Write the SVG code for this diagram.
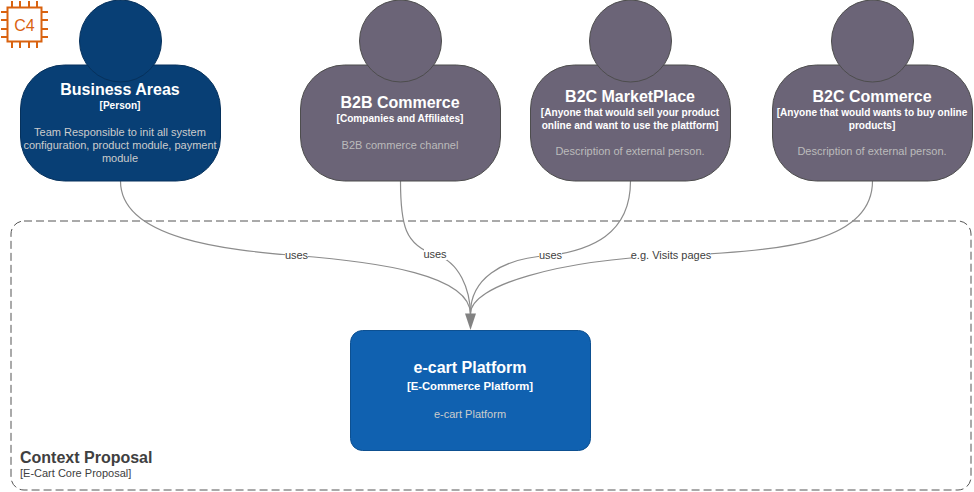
<svg xmlns="http://www.w3.org/2000/svg" width="974" height="492" viewBox="0 0 974 492">
<style>
text{font-family:"Liberation Sans",Arial,sans-serif;text-anchor:middle}
.t{font-size:16px;font-weight:bold;fill:#fff}
.s{font-size:10.100px;font-weight:bold;fill:#fff}
.d{font-size:11px;fill:#ccc}
.dx{font-size:11px;fill:#bbb}
.ext{fill:#6b6477;stroke:#4d4d4d;stroke-width:1}
.per{fill:#083f75;stroke:#06315c;stroke-width:1}
.c{fill:none;stroke:#8c8c8c;stroke-width:1.200}
.l{font-size:11px;fill:#404040}
.lb{fill:#fff}
</style>
<g id="boundary">
<rect x="11" y="221" width="960" height="269" rx="13" ry="13" fill="none" stroke="#555" stroke-dasharray="8 4"/>
<text x="20" y="463" style="text-anchor:start;font-size:16px;font-weight:bold;fill:#404040">Context Proposal</text>
<text x="20" y="477" style="text-anchor:start;font-size:11px;fill:#404040">[E-Cart Core Proposal]</text>
</g>
<g id="logo" fill="none" stroke="#d9620f" stroke-width="2">
<rect x="7.500" y="7.500" width="34" height="34" fill="#fff"/>
<path d="M12 1v6M20 1v6M29 1v6M37 1v6M12 42v6M20 42v6M29 42v6M37 42v6M1 12h6M1 20h6M1 29h6M1 37h6M42 12h6M42 20h6M42 29h6M42 37h6"/>
<text x="24.500" y="31" style="font-size:16px;fill:#d9620f;stroke:none">C4</text>
</g>
<g id="connectors">
<path class="c" d="M120.500 181C120.500 240 230 250 295 255.500C380 262 470 275 470.500 314"/>
<path class="c" d="M400.500 181C400.500 225 405 245 435 254.500C460 262 470 290 470.500 314"/>
<path class="c" d="M630.500 181C630.500 235 590 250 550 255.500C500 258 470 280 470.500 314"/>
<path class="c" d="M872.500 181C872.500 240 790 252 671 255.500C560 260 470 285 470.500 314"/>
<path d="M465 313.500H476L470.500 330Z" fill="#828282"/>
<rect class="lb" x="285" y="250" width="23" height="11"/>
<text class="l" x="296.500" y="259">uses</text>
<rect class="lb" x="424" y="249" width="23" height="11"/>
<text class="l" x="435" y="258">uses</text>
<rect class="lb" x="539" y="250" width="23" height="11"/>
<text class="l" x="550.500" y="259">uses</text>
<rect class="lb" x="632" y="250" width="79" height="11"/>
<text class="l" x="671" y="259">e.g. Visits pages</text>
</g>
<g id="business-areas">
<rect class="per" x="20.500" y="65" width="200" height="116" rx="44" ry="44"/>
<circle class="per" cx="120.500" cy="41" r="41"/>
<text class="t" x="120" y="95">Business Areas</text>
<text class="s" x="120" y="109">[Person]</text>
<text class="d" x="120" y="136">Team Responsible to init all system</text>
<text class="d" x="120" y="149">configuration, product module, payment</text>
<text class="d" x="120" y="162">module</text>
</g>
<g id="b2b-commerce">
<rect class="ext" x="300.500" y="65" width="200" height="116" rx="44" ry="44"/>
<circle class="ext" cx="400.500" cy="41" r="41"/>
<text class="t" x="400" y="108">B2B Commerce</text>
<text class="s" x="400" y="122">[Companies and Affiliates]</text>
<text class="dx" x="400" y="149">B2B commerce channel</text>
</g>
<g id="b2c-marketplace">
<rect class="ext" x="530.500" y="65" width="200" height="116" rx="44" ry="44"/>
<circle class="ext" cx="630.500" cy="41" r="41"/>
<text class="t" x="630" y="102">B2C MarketPlace</text>
<text class="s" x="630" y="116">[Anyone that would sell your product</text>
<text class="s" x="630" y="129">online and want to use the plattform]</text>
<text class="dx" x="630" y="155">Description of external person.</text>
</g>
<g id="b2c-commerce">
<rect class="ext" x="772.500" y="65" width="200" height="116" rx="44" ry="44"/>
<circle class="ext" cx="872.500" cy="41" r="41"/>
<text class="t" x="872" y="102">B2C Commerce</text>
<text class="s" x="872" y="116">[Anyone that would wants to buy online</text>
<text class="s" x="872" y="129">products]</text>
<text class="dx" x="872" y="155">Description of external person.</text>
</g>
<g id="e-cart-platform">
<rect x="350.500" y="330.500" width="240" height="120" rx="12" ry="12" fill="#1061b0" stroke="#0d5091"/>
<text class="t" x="470" y="373">e-cart Platform</text>
<text class="s" x="470" y="390" style="font-size:11.300px">[E-Commerce Platform]</text>
<text class="d" x="470" y="418">e-cart Platform</text>
</g>
</svg>
